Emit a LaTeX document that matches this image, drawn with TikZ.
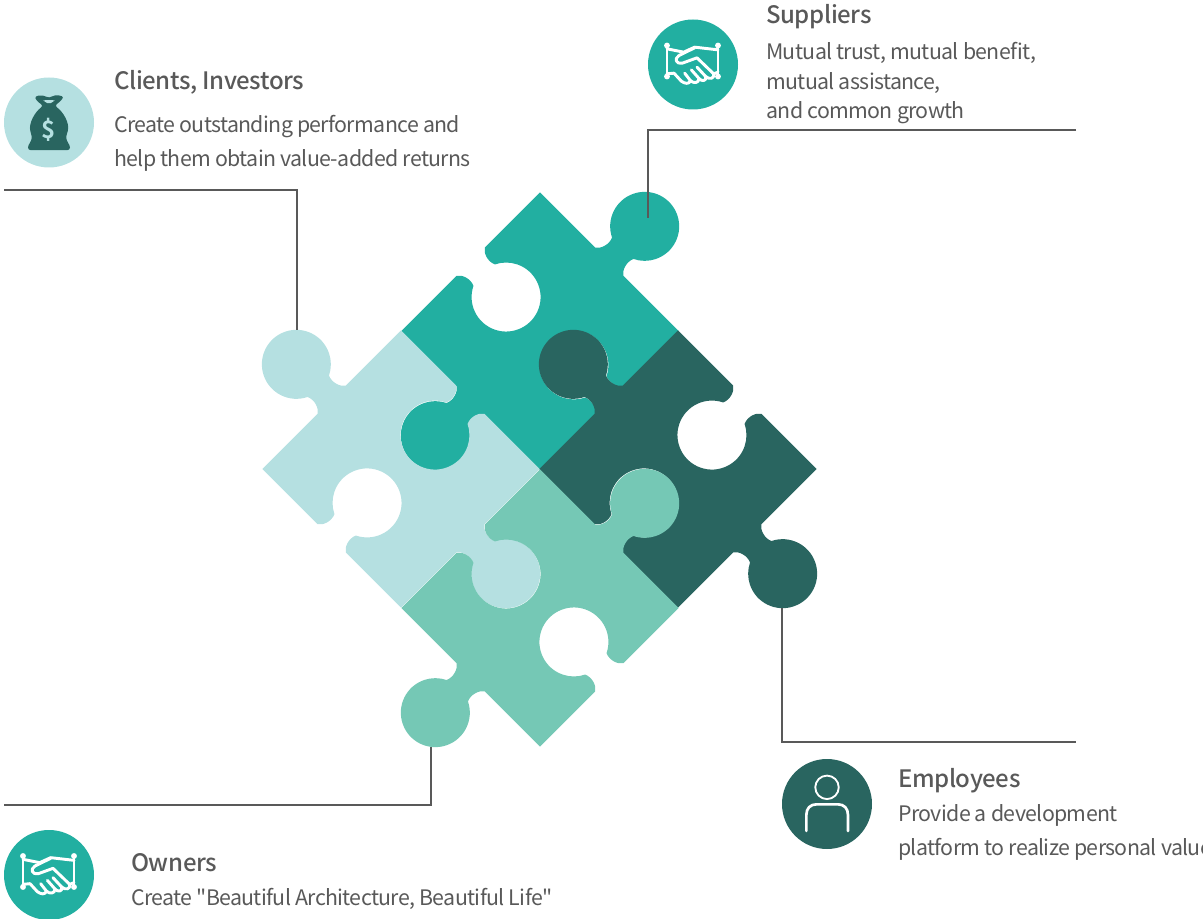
\documentclass[tikz,border=0pt]{standalone}
\usepackage{fontspec}
\setmainfont{Noto Sans CJK SC}[BoldFont={Noto Sans CJK SC Medium},Ligatures=TeXOff]
\newfontfamily\bodyfont{Noto Sans CJK SC}[Ligatures=TeXOff,LetterSpace=-3]
\newfontfamily\headfont{Noto Sans CJK SC Medium}[Ligatures=TeXOff,LetterSpace=-1.7]
\newfontfamily\signfont{Noto Sans CJK SC Bold}
\definecolor{cTeal}{HTML}{22AFA1}
\definecolor{cLight}{HTML}{B5E0E1}
\definecolor{cDark}{HTML}{296560}
\definecolor{cMint}{HTML}{75C8B5}
\definecolor{cLine}{HTML}{595959}
\definecolor{cText}{HTML}{595959}
\newcommand\Eout{-- (-20,98) .. controls (-15,101) and (-12,110) .. (-15.1,117) arc[start angle=244,end angle=-64,radius=25.875pt] .. controls (12,110) and (15,101) .. (20,98) -- (98,98)}
\newcommand\Ein{-- (-20,98) .. controls (-15,95) and (-12,86) .. (-15.1,79) arc[start angle=116,end angle=424,radius=25.875pt] .. controls (12,86) and (15,95) .. (20,98) -- (98,98)}
\newcommand\puzzle[5]{\fill[#1,x=.75pt,y=.75pt,shift={(#2,-#3)}] (0,138.5) {[rotate=-45] #4} {[rotate=-135] #5} {[rotate=-225] #4} {[rotate=-315] #5} -- cycle;}
\tikzset{
  x=.75pt,y=-.75pt,
  head/.style={anchor=base west,inner sep=0pt,text=cText,font=\fontsize{18pt}{20pt}\headfont},
  body/.style={anchor=base west,inner sep=0pt,text=cText,font=\fontsize{16pt}{20pt}\bodyfont},
  link/.style={draw=cLine,line width=1.5pt},
  badge/.style={circle,inner sep=0pt,minimum size=67.5pt,fill=#1},
  hand/.pic={
    \begin{scope}[x=.25pt,y=-.25pt,shift={(-160,-162)},draw=white,line width=2.2pt,line cap=round,line join=round]
      \draw (82,105) -- (82,198) (235,105) -- (235,198);
      \fill[white] (82,105) circle[radius=2.2pt] (235,105) circle[radius=2.2pt] (82,198) circle[radius=2.2pt] (235,198) circle[radius=2.2pt];
      \draw (82,115) -- (132,125) -- (165,110) -- (235,118);
      \draw (165,112) -- (118,135) .. controls (102,145) and (110,162) .. (128,158) -- (172,142) -- (222,190) .. controls (226,205) and (208,208) .. (198,198) -- (172,170);
      \draw (198,198) .. controls (202,212) and (186,214) .. (178,204) -- (155,178);
      \draw (178,204) .. controls (178,218) and (162,220) .. (152,210) -- (135,188);
      \draw (152,210) .. controls (150,222) and (135,220) .. (125,212) -- (103,188) -- (82,190);
      \draw (222,190) -- (235,185);
    \end{scope}
  }
}
\begin{document}
\begin{tikzpicture}
\useasboundingbox (0,0) rectangle (1203,919);
% puzzle
\puzzle{cTeal}{540}{331}{\Eout}{\Ein}
\puzzle{cLight}{401}{469}{\Ein}{\Eout}
\puzzle{cDark}{678}{469}{\Ein}{\Eout}
\puzzle{cMint}{540}{608}{\Eout}{\Ein}
% badges
\node[badge=cLight] (bagBadge) at (49,122.5) {};
\node[badge=cTeal] (supBadge) at (693,64.5) {};
\node[badge=cDark] (empBadge) at (827,804) {};
\node[badge=cTeal] (ownBadge) at (49,875) {};
% money bag
\begin{scope}[shift={(bagBadge.center)},x=.25pt,y=-.25pt,shift={(-147,-157)}]
  \fill[cDark,rounded corners=2pt] (84,240) .. controls (84,222) and (98,212) .. (93,190) .. controls (85,160) and (105,125) .. (130,107) -- (110,92) .. controls (102,76) and (125,72) .. (148,84) .. controls (165,72) and (192,76) .. (185,90) -- (164,107) .. controls (190,125) and (210,160) .. (201,190) .. controls (196,212) and (210,222) .. (210,240) -- cycle;
  \fill[cLight] (130,91) .. controls (140,89) and (154,89) .. (164,91) -- (152,99) -- (142,99) -- cycle;
\end{scope}
\node[inner sep=0pt,text=cLight,font=\fontsize{18pt}{22pt}\signfont] (bagSign) at (49,129.5) {\$};
% hands
\pic at (supBadge.center) {hand};
\pic at (ownBadge.center) {hand};
% person
\begin{scope}[shift={(empBadge.center)},x=.25pt,y=-.25pt,shift={(-172,-162)},draw=white,line cap=round]
  \draw[line width=1.4pt] (172,112) circle[radius=8.8pt];
  \draw[line width=2pt] (110,243) -- (110,195) .. controls (110,175) and (122,163) .. (140,163) -- (205,163) .. controls (223,163) and (235,175) .. (235,195) -- (235,243);
\end{scope}
% connectors
\coordinate (cliA) at (4,190.5);
\coordinate (cliB) at (296.5,330);
\coordinate (supA) at (1076,130.5);
\coordinate (supB) at (648,218);
\coordinate (empA) at (782,608);
\coordinate (empB) at (1076,742);
\coordinate (ownA) at (431,747);
\coordinate (ownB) at (4,804.5);
\draw[link] (cliA) -| (cliB);
\draw[link] (supA) -| (supB);
\draw[link] (empA) |- (empB);
\draw[link] (ownA) |- (ownB);
% text
\node[head] (t1) at (114,90) {Clients, Investors};
\node[body] (t1a) at (114,133) {Create outstanding performance and};
\node[body] (t1b) at (114,167) {help them obtain value-added returns};
\node[head] (t2) at (766,24) {Suppliers};
\node[body] (t2a) at (766,60) {Mutual trust, mutual benefit,};
\node[body] (t2b) at (766,90) {mutual assistance,};
\node[body] (t2c) at (766,119) {and common growth};
\node[head] (t3) at (898,787) {Employees};
\node[body] (t3a) at (898,821) {Provide a development};
\node[body] (t3b) at (898,855) {platform to realize personal value};
\node[head] (t4) at (131,871) {Owners};
\node[body] (t4a) at (131,905) {Create "Beautiful Architecture, Beautiful Life"};
\end{tikzpicture}
\end{document}
